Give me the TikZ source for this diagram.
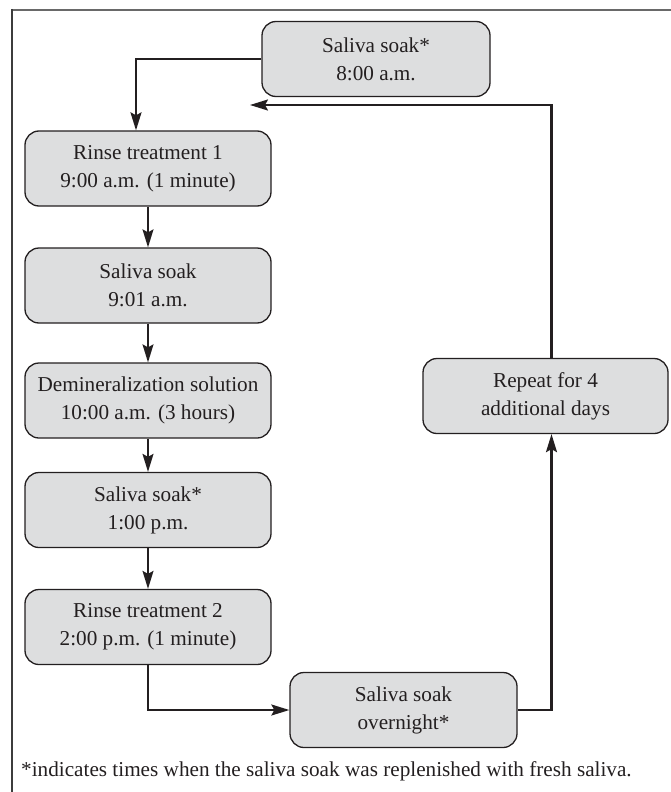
\documentclass[tikz,border=0pt]{standalone}
\usepackage{fontspec}
\setmainfont{Liberation Serif}
\usetikzlibrary{arrows.meta}
\definecolor{boxfill}{RGB}{221,222,223}
\definecolor{boxline}{RGB}{35,31,32}
\definecolor{txt}{RGB}{35,31,32}
\definecolor{frametop}{RGB}{105,105,105}
\definecolor{frameleft}{RGB}{60,60,60}
\begin{document}
\begin{tikzpicture}[x=1pt,y=-1pt,
  box/.style={draw=boxline, fill=boxfill, line width=1.3pt, rounded corners=14pt,
    inner sep=0pt, text=txt, font=\fontsize{21.2}{28}\selectfont, align=center,
    minimum height=75pt},
  leftbox/.style={box, minimum width=246pt},
  conn/.style={draw=txt, line width=2.1pt, -{Stealth[length=18pt,width=11pt,inset=3pt]}},
  connthin/.style={draw=txt, line width=1.5pt, -{Stealth[length=18pt,width=11pt,inset=3pt]}},
  note/.style={text=txt, font=\fontsize{21.2}{24}\selectfont, inner sep=0pt}
]
\useasboundingbox (0,0) rectangle (671,792);
% frame (cropped: top and left sides only)
\draw[frametop, line width=2.5pt] (11.7,10) -- (671,10);
\draw[frameleft, line width=2pt] (11.7,9) -- (11.7,792);

\node[box, minimum width=228pt] (top) at (376,59) {Saliva soak*\\8:00 a.m.};
\node[leftbox] (r1) at (148,168.5) {Rinse treatment 1\\9:00 a.m. (1 minute)};
\node[leftbox] (s1) at (148,285.5) {Saliva soak\\9:01 a.m.};
\node[leftbox] (dm) at (148,400.5) {Demineralization solution\\10:00 a.m. (3 hours)};
\node[leftbox] (s2) at (148,510) {Saliva soak*\\1:00 p.m.};
\node[leftbox] (r2) at (148,627) {Rinse treatment 2\\2:00 p.m. (1 minute)};
\node[box, minimum width=227pt] (on) at (403.5,710) {Saliva soak\\overnight*};
\node[box, minimum width=245pt] (rep) at (545.5,396) {Repeat for 4\\additional days};

\coordinate (rx) at (551.5,0);
\coordinate (ret) at (250,105);

\draw[conn] (top.west) -| ([xshift=-12pt]r1.north);
\draw[connthin] (r1.south) -- (s1.north);
\draw[connthin] (s1.south) -- (dm.north);
\draw[connthin] (dm.south) -- (s2.north);
\draw[connthin] (s2.south) -- (r2.north);
\draw[conn] (r2.south) |- (on.west);
\draw[conn] (on.east) -| (rep.south -| rx);
\draw[conn] (rep.north -| rx) |- (ret);

\node[note, anchor=base west] (fn) at (21,776) {*indicates times when the saliva soak was replenished with fresh saliva.};
\end{tikzpicture}
\end{document}
